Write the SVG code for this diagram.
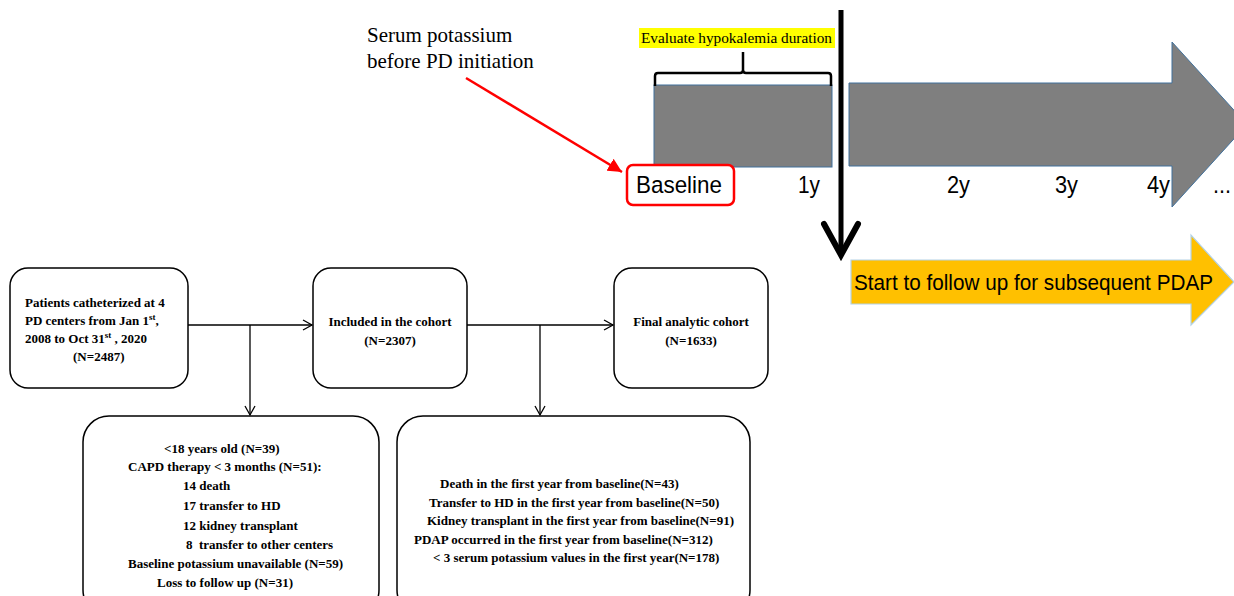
<svg xmlns="http://www.w3.org/2000/svg" width="1234" height="596" viewBox="0 0 1234 596">
<defs>
<style>
.tn{font-family:"Liberation Serif","Times New Roman",serif;fill:#000}
.fb{font-family:"Liberation Serif","Times New Roman",serif;font-weight:bold;font-size:13px;fill:#000}
.sa{font-family:"Liberation Sans",Arial,sans-serif;fill:#000}
.yr{font-family:"Liberation Sans",Arial,sans-serif;fill:#000;font-size:24px}
.box{fill:#fff;stroke:#000;stroke-width:1.5}
.con{fill:none;stroke:#000;stroke-width:1.3}
</style>
<marker id="open" markerWidth="12" markerHeight="12" refX="10" refY="6" orient="auto" markerUnits="userSpaceOnUse">
<path d="M1,1 L10,6 L1,11" fill="none" stroke="#000" stroke-width="1.3"/>
</marker>
<marker id="red" markerWidth="16" markerHeight="14" refX="14" refY="7" orient="auto" markerUnits="userSpaceOnUse">
<path d="M0,0 L14,7 L0,14 Z" fill="#ff0000"/>
</marker>
</defs>

<g id="timeline">
<rect x="654" y="85" width="178" height="82" fill="#7f7f7f" stroke="#41719c" stroke-width="1"/>
<path d="M849,83 L1172,83 L1172,42 L1247,124.5 L1172,207 L1172,166 L849,166 Z" fill="#7f7f7f" stroke="#41719c" stroke-width="1"/>
<path d="M655,86 L655,76 Q655,73 658,73 L740,73 Q743,73 743,70 L743,52 M743,70 Q743,73 746,73 L828,73 Q831,73 831,76 L831,86" fill="none" stroke="#000" stroke-width="2.5"/>
</g>

<g id="hypokalemia-label">
<rect x="639" y="28" width="196" height="20" fill="#ffff00"/>
<text class="tn" x="641" y="43" font-size="15.5" textLength="191" lengthAdjust="spacingAndGlyphs">Evaluate hypokalemia duration</text>
</g>

<g id="serum-label">
<text class="tn" x="367" y="42" font-size="21">Serum potassium</text>
<text class="tn" x="367" y="68" font-size="21">before PD initiation</text>
</g>

<g id="baseline">
<rect x="627" y="165" width="107" height="40" rx="6" fill="#fff" stroke="#ff0000" stroke-width="2.5"/>
<text class="sa" x="636" y="193" font-size="24.5" textLength="86" lengthAdjust="spacingAndGlyphs">Baseline</text>
</g>

<g id="year-labels">
<text class="yr" x="798" y="193" textLength="22" lengthAdjust="spacingAndGlyphs">1y</text>
<text class="yr" x="947" y="193" textLength="23" lengthAdjust="spacingAndGlyphs">2y</text>
<text class="yr" x="1055" y="193" textLength="23" lengthAdjust="spacingAndGlyphs">3y</text>
<text class="yr" x="1147" y="193" textLength="23" lengthAdjust="spacingAndGlyphs">4y</text>
<text class="yr" x="1213" y="193" textLength="18" lengthAdjust="spacingAndGlyphs">...</text>
</g>

<g id="follow-up">
<path d="M851,260 L1191,260 L1191,235 L1234,282 L1191,325 L1191,304 L851,304 Z" fill="#ffc000" stroke="#b4d2e6" stroke-width="1.2"/>
<text class="sa" x="854" y="290" font-size="21.5" textLength="359" lengthAdjust="spacingAndGlyphs">Start to follow up for subsequent PDAP</text>
</g>

<g id="box-patients">
<rect class="box" x="10" y="268" width="178" height="120" rx="18"/>
<text class="fb" x="25" y="307">Patients catheterized at 4</text>
<text class="fb" x="25" y="325">PD centers from Jan 1<tspan font-size="9" dy="-5">st</tspan><tspan dy="5">,</tspan></text>
<text class="fb" x="25" y="343">2008 to Oct 31<tspan font-size="9" dy="-5">st</tspan><tspan dy="5"> , 2020</tspan></text>
<text class="fb" x="73" y="361">(N=2487)</text>
</g>

<g id="box-included">
<rect class="box" x="313" y="268" width="154" height="120" rx="18"/>
<text class="fb" x="390" y="326" text-anchor="middle">Included in the cohort</text>
<text class="fb" x="390" y="345" text-anchor="middle">(N=2307)</text>
</g>

<g id="box-final">
<rect class="box" x="614" y="268" width="154" height="120" rx="18"/>
<text class="fb" x="691" y="326" text-anchor="middle">Final analytic cohort</text>
<text class="fb" x="691" y="345" text-anchor="middle">(N=1633)</text>
</g>

<g id="box-excluded1">
<rect class="box" x="83" y="416" width="296" height="200" rx="26"/>
<text class="fb" x="164" y="453">&lt;18 years old (N=39)</text>
<text class="fb" x="128" y="471">CAPD therapy &lt; 3 months (N=51):</text>
<text class="fb" x="183" y="490">14 death</text>
<text class="fb" x="183" y="510">17 transfer to HD</text>
<text class="fb" x="183" y="530">12 kidney transplant</text>
<text class="fb" x="186" y="549" xml:space="preserve">8  transfer to other centers</text>
<text class="fb" x="128" y="568">Baseline potassium unavailable (N=59)</text>
<text class="fb" x="157" y="587">Loss to follow up (N=31)</text>
</g>

<g id="box-excluded2">
<rect class="box" x="397" y="416" width="353" height="200" rx="26"/>
<text class="fb" x="440" y="488">Death in the first year from baseline(N=43)</text>
<text class="fb" x="429" y="507">Transfer to HD in the first year from baseline(N=50)</text>
<text class="fb" x="427" y="525">Kidney transplant in the first year from baseline(N=91)</text>
<text class="fb" x="414" y="544">PDAP occurred in the first year from baseline(N=312)</text>
<text class="fb" x="433" y="562">&lt; 3 serum potassium values in the first year(N=178)</text>
</g>

<g id="connectors">
<line class="con" x1="188" y1="325" x2="312" y2="325" marker-end="url(#open)"/>
<line class="con" x1="250" y1="325" x2="250" y2="415" marker-end="url(#open)"/>
<line class="con" x1="467" y1="325" x2="613" y2="325" marker-end="url(#open)"/>
<line class="con" x1="540" y1="325" x2="540" y2="415" marker-end="url(#open)"/>
<line x1="466" y1="78" x2="622" y2="172" stroke="#ff0000" stroke-width="2.5" marker-end="url(#red)"/>
<line x1="841" y1="10" x2="841" y2="252" stroke="#000" stroke-width="5"/>
<path d="M824,224 L841,255 L858,224" fill="none" stroke="#000" stroke-width="6" stroke-linecap="round" stroke-linejoin="miter"/>
</g>
</svg>
